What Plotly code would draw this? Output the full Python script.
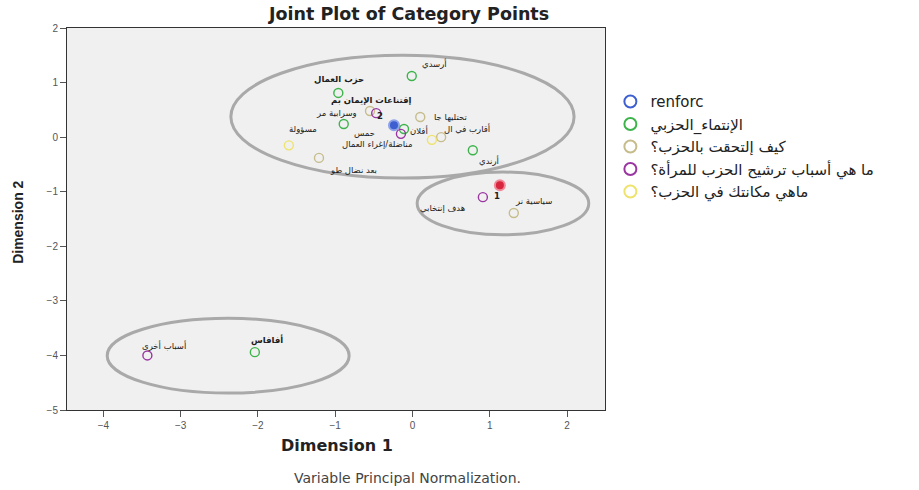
import plotly.graph_objects as go

# ---- category points (object scores per variable) ----
renforc_labels = ["2", "1"]
renforc_x = [-0.24, 1.13]
renforc_y = [0.22, -0.88]

party_labels = ["أرسدي", "حزب العمال", "حمس", "أفلان", "أرندي", "أفافاس"]
party_x = [-0.01, -0.96, -0.89, -0.11, 0.78, -2.04]
party_y = [1.12, 0.81, 0.24, 0.15, -0.24, -3.94]

join_labels = ["إقتناعات الإيمان بم", "تحتليها جا", "أقارب في ال", "بعد نضال طو", "سياسية نر"]
join_x = [-0.55, 0.10, 0.37, -1.21, 1.31]
join_y = [0.48, 0.37, 0.00, -0.38, -1.39]

reason_labels = ["وسرابية مر", "", "هدف إنتخابي", "أسباب أخرى"]
reason_x = [-0.47, -0.15, 0.91, -3.43]
reason_y = [0.44, 0.06, -1.10, -4.00]

position_labels = ["مسؤولة", "مناضلة/إغراء العمال"]
position_x = [-1.60, 0.25]
position_y = [-0.15, -0.05]

legend_names = ["renforc", "الإنتماء_الحزبي", "كيف إلتحقت بالحزب؟",
                "ما هي أسباب ترشيح الحزب للمرأة؟", "ماهي مكانتك في الحزب؟"]

# cluster outlines: (x0, x1, y0, y1)
cluster_bounds = [(-2.35, 2.09, -0.75, 1.50),
                  (0.06, 2.28, -1.79, -0.64),
                  (-3.95, -0.82, -4.69, -3.32)]

x_ticks = [-4, -3, -2, -1, 0, 1, 2]
y_ticks = [2, 1, 0, -1, -2, -3, -4, -5]

# ---- styling ----
BLUE = "#3d5fd0"
RED = "#d7263d"
GREEN = "#3cb44b"
TAN = "#c6bc8c"
PURPLE = "#9a35a2"
YELLOW = "#eee36c"

label_shift = {
    "renforc": [(-14, 9), (-3, -11)],
    "party": [(23, 13), (1, 13), (21, -9), (15, -2), (16, -10), (12, 12)],
    "join": [(1, 11), (30, 0), (26, 9), (35, -12), (20, 12)],
    "reason": [(-40, 0), (0, 0), (-40, -11), (17, 10)],
    "position": [(14, 16), (-55, -5)],
}
bold_labels = {"حزب العمال", "إقتناعات الإيمان بم", "أفافاس", "1", "2"}

SANS = "DejaVu Sans, Liberation Sans, sans-serif"
LABEL_FONT = dict(family=SANS, size=8.5, color="#202020")

fig = go.Figure()

# renforc: filled points, open blue circle in the legend
fig.add_trace(go.Scatter(
    x=renforc_x, y=renforc_y, mode="markers", showlegend=False,
    legendgroup="renforc", hoverinfo="text", text=renforc_labels,
    marker=dict(symbol="circle", size=10, color=[BLUE, RED],
                line=dict(color=["#8ea2e8", "#f08a98"], width=2)),
))
fig.add_trace(go.Scatter(
    x=[None], y=[None], mode="markers", name=legend_names[0], legendgroup="renforc",
    marker=dict(symbol="circle-open", size=10, color=BLUE, line=dict(width=1.8)),
))

groups = [
    ("party", party_x, party_y, party_labels, GREEN, legend_names[1]),
    ("join", join_x, join_y, join_labels, TAN, legend_names[2]),
    ("reason", reason_x, reason_y, reason_labels, PURPLE, legend_names[3]),
    ("position", position_x, position_y, position_labels, YELLOW, legend_names[4]),
]
for key, xs, ys, labels, color, name in groups:
    fig.add_trace(go.Scatter(
        x=xs, y=ys, mode="markers", name=name, text=labels, hoverinfo="text",
        marker=dict(symbol="circle-open", size=9, color=color, line=dict(width=1.4)),
    ))

# point labels
annotations = []
all_sets = [("renforc", renforc_x, renforc_y, renforc_labels)] + \
           [(g[0], g[1], g[2], g[3]) for g in groups]
for key, xs, ys, labels in all_sets:
    for (xv, yv, lab, (dx, dy)) in zip(xs, ys, labels, label_shift[key]):
        if not lab:
            continue
        txt = f"<b>{lab}</b>" if lab in bold_labels else lab
        annotations.append(dict(x=xv, y=yv, xref="x", yref="y", text=txt,
                                showarrow=False, xshift=dx, yshift=dy, font=LABEL_FONT))

# titles and notes
annotations += [
    dict(text="<b>Joint Plot of Category Points</b>", xref="paper", yref="paper",
         x=0.634, y=1.037, showarrow=False, xanchor="center", yanchor="middle",
         font=dict(family=SANS, size=17.5, color="#222")),
    dict(text="<b>Dimension 1</b>", xref="paper", yref="paper", x=0.502, y=-0.092,
         showarrow=False, xanchor="center", yanchor="middle",
         font=dict(family=SANS, size=16, color="#222")),
    dict(text="<b>Dimension 2</b>", xref="paper", yref="paper", x=-0.091, y=0.49,
         showarrow=False, xanchor="center", yanchor="middle", textangle=-90,
         font=dict(family="Liberation Sans, Arial, sans-serif", size=14, color="#222")),
    dict(text="Variable Principal Normalization.", xref="paper", yref="paper",
         x=0.632, y=-0.178, showarrow=False, xanchor="center", yanchor="middle",
         font=dict(family=SANS, size=14, color="#444")),
]

shapes = [dict(type="circle", xref="x", yref="y", x0=b[0], x1=b[1], y0=b[2], y1=b[3],
               line=dict(color="#a9a9a9", width=3), layer="below")
          for b in cluster_bounds]

fig.update_layout(
    width=919, height=490,
    margin=dict(l=67, r=314, t=28, b=80),
    paper_bgcolor="white", plot_bgcolor="#f0f0f0",
    showlegend=True,
    legend=dict(x=1.01, y=0.85, xanchor="left", yanchor="top",
                font=dict(family=SANS, size=15, color="#222"),
                itemsizing="constant", tracegroupgap=0, bgcolor="rgba(0,0,0,0)"),
    annotations=annotations,
    shapes=shapes,
    hovermode="closest",
)
fig.update_xaxes(range=[-4.47, 2.49], tickvals=x_ticks, showgrid=False, zeroline=False,
                 showline=True, linecolor="#333", linewidth=1, mirror=True,
                 ticks="outside", ticklen=6, tickcolor="#555",
                 tickfont=dict(family="Liberation Sans, Arial, sans-serif", size=10, color="#555"))
fig.update_yaxes(range=[-5, 2], tickvals=y_ticks, showgrid=False, zeroline=False,
                 showline=True, linecolor="#333", linewidth=1, mirror=True,
                 ticks="outside", ticklen=6, tickcolor="#555",
                 tickfont=dict(family="Liberation Sans, Arial, sans-serif", size=10, color="#555"))

fig.write_html("out.html")
